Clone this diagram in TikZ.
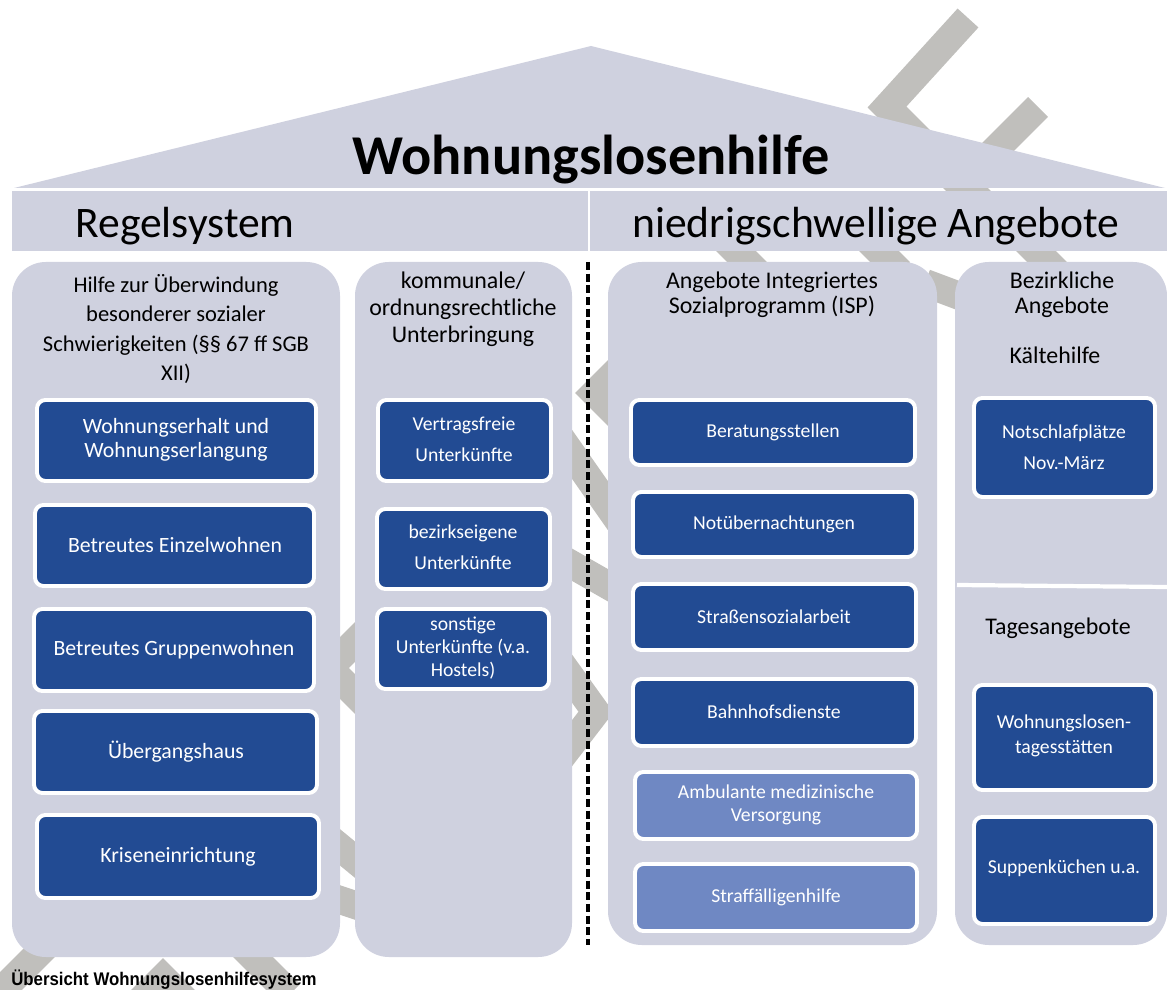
\documentclass[tikz,border=0pt]{standalone}
\usepackage{fontspec}
\setmainfont{Carlito}
\newfontfamily\unterschriftfont{Liberation Sans}
\definecolor{hausgrau}{RGB}{207,209,223}
\definecolor{dunkelblau}{RGB}{34,75,147}
\definecolor{hellblau}{RGB}{111,136,195}
\definecolor{streifengrau}{RGB}{192,191,188}
\newcommand{\fs}[2]{\fontsize{#1}{#2}\selectfont}

\begin{document}
\begin{tikzpicture}[x=0.025cm, y=-0.025cm,
  streifen/.style={draw=streifengrau, line width=20pt},
  saeule/.style={fill=hausgrau, rounded corners=24pt},
  kasten/.style={draw=white, fill=dunkelblau, line width=2.8pt, rounded corners=6pt},
  hellkasten/.style={kasten, fill=hellblau},
  kopf/.style={align=center, font=\fs{17}{18}},
  kastentext/.style={align=center, text=white, font=\fs{14}{16.5}}]
\useasboundingbox (0,0) rectangle (1167,990);

% grey zigzag in the background
\draw[streifen] (968,18) -- (887,107) -- (1000,220);
\draw[streifen] (1038,107) -- (950,195);
\draw[streifen] (725,240) -- (760,275);
\draw[streifen] (868,240) -- (900,272);
\draw[streifen] (1025,240) -- (1060,275);
\draw[streifen] (925,283) -- (965,298);
% between the columns
\draw[streifen] (365,632) -- (329,668) -- (365,704);
\draw[streifen] (325,835) -- (370,872);
\draw[streifen] (325,895) -- (370,910);
\draw[streifen] (630,358) -- (595,393) -- (630,428);
\draw[streifen] (555,430) -- (625,530);
\draw[streifen] (555,555) -- (625,595);
\draw[streifen] (550,648) -- (596,712) -- (556,764);
% below the columns
\draw[streifen] (60,932) -- (0,992);
\draw[streifen] (123,1018) -- (163,978) -- (203,1018);
\draw[streifen] (225,929) -- (290,994);

% roof and band
\fill[hausgrau] (14,188) -- (591,46) -- (1165,188) -- cycle;
\fill[hausgrau] (12,191) rectangle (1167,251);
\draw[white, line width=1.5pt] (589,191) -- (589,251);
\node[font=\bfseries\fs{40}{40}] (titel) at (591,160) {Wohnungslosenhilfe};
\node[font=\fs{31}{31}] (regel) at (185,226) {Regelsystem};
\node[font=\fs{31}{31}] (niedrig) at (876,226) {niedrigschwellige Angebote};

% columns
\fill[saeule] (12,262) rectangle (340,957);
\fill[saeule] (355,262) rectangle (572,957);
\fill[saeule] (608,262) rectangle (937,945);
\fill[saeule] (955,262) rectangle (1167,945);
\draw[white, line width=3pt] (957,585) -- (1167,587);
\draw[line width=3.5pt, dash pattern=on 5.7pt off 2.6pt] (588,262) -- (588,945);

% Regelsystem
\node[kopf, font=\fs{16}{20.8}] (hilfe) at (176,329) {Hilfe zur Überwindung\\besonderer sozialer\\Schwierigkeiten (§§ 67 ff SGB\\XII)};
\draw[kasten] (37,400) rectangle (316,481);
\draw[kasten] (35,505) rectangle (314,586);
\draw[kasten] (34,609) rectangle (314,691);
\draw[kasten] (34,711) rectangle (317,793);
\draw[kasten] (37,815) rectangle (319,898);
\node[kastentext, font=\fs{15.5}{17}] (erhalt) at (176,440) {Wohnungserhalt und\\Wohnungserlangung};
\node[kastentext, font=\fs{15.5}{17}] (einzel) at (175,545) {Betreutes Einzelwohnen};
\node[kastentext, font=\fs{15.5}{17}] (gruppe) at (174,650) {Betreutes Gruppenwohnen};
\node[kastentext, font=\fs{15.5}{17}] (uebergang) at (176,752) {Übergangshaus};
\node[kastentext, font=\fs{15.5}{17}] (krise) at (178,857) {Kriseneinrichtung};

\node[kopf, font=\fs{17}{19.2}] (kommunal) at (463,309) {kommunale/\\ordnungsrechtliche\\Unterbringung};
\draw[kasten] (378,400) rectangle (551,481);
\draw[kasten] (377,509) rectangle (550,589);
\draw[kasten] (377,609) rectangle (549,689);
\node[kastentext, font=\fs{14}{22}] (vertragsfrei) at (464,439) {Vertragsfreie\\Unterkünfte};
\node[kastentext, font=\fs{14}{22}] (bezirkseigen) at (463,547) {bezirkseigene\\Unterkünfte};
\node[kastentext, font=\fs{14}{16.4}] (sonstige) at (463,648) {sonstige\\Unterkünfte (v.a.\\Hostels)};

% niedrigschwellige Angebote
\node[kopf] (isp) at (772,295) {Angebote Integriertes\\Sozialprogramm (ISP)};
\draw[kasten] (631,400) rectangle (915,465);
\draw[kasten] (633,492) rectangle (916,557);
\draw[kasten] (633,584) rectangle (916,650);
\draw[kasten] (633,679) rectangle (916,746);
\draw[hellkasten] (635,772) rectangle (917,839);
\draw[hellkasten] (635,864) rectangle (917,931);
\node[kastentext] (beratung) at (773,432) {Beratungsstellen};
\node[kastentext] (notueber) at (774,524) {Notübernachtungen};
\node[kastentext] (strasse) at (774,617) {Straßensozialarbeit};
\node[kastentext] (bahnhof) at (774,712) {Bahnhofsdienste};
\node[kastentext] (ambulant) at (776,805) {Ambulante medizinische\\Versorgung};
\node[kastentext] (straff) at (776,897) {Straffälligenhilfe};

\node[kopf] (bezirk) at (1062,295) {Bezirkliche\\Angebote};
\node[kopf] (kaelte) at (1055,355) {Kältehilfe};
\draw[kasten] (974,398) rectangle (1155,497);
\node[kastentext, font=\fs{14}{22}] (notschlaf) at (1064,447) {Notschlafplätze\\Nov.-März};
\node[kopf] (tages) at (1058,628) {Tagesangebote};
\draw[kasten] (974,685) rectangle (1155,790);
\draw[kasten] (974,817) rectangle (1155,924);
\node[kastentext, font=\fs{14}{18}] (staetten) at (1064,736) {Wohnungslosen-\\tagesstätten};
\node[kastentext] (suppe) at (1064,868) {Suppenküchen u.a.};

\node[anchor=west, inner sep=0pt, font=\unterschriftfont\bfseries\fs{13}{13}] (unterschrift) at (11,980) {\scalebox{0.92}[1]{Übersicht Wohnungslosenhilfesystem}};
\end{tikzpicture}
\end{document}
